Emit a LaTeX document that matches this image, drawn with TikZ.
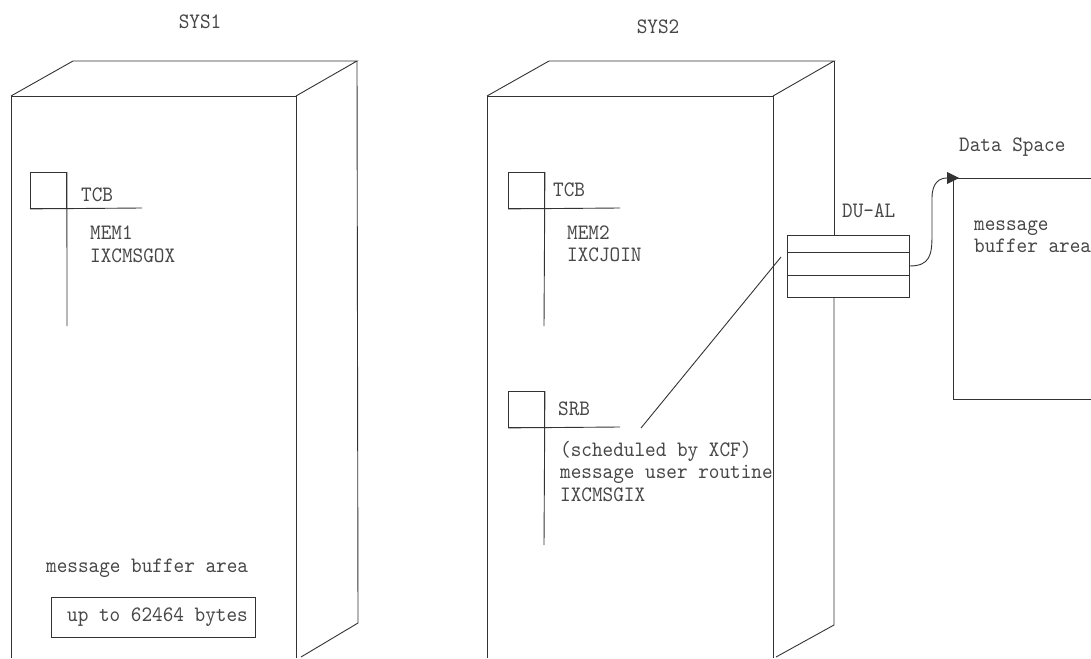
\documentclass[tikz,border=0pt]{standalone}
\usepackage{fontspec}
\setmainfont{lmmono10-regular.otf}[FakeStretch=0.92]
\usepackage{tikz}
\usetikzlibrary{positioning,arrows.meta}
\definecolor{inkline}{HTML}{333333}
\definecolor{inktext}{HTML}{474747}
\tikzset{
    wire/.style={draw=inkline,line width=0.9pt},
    lbl/.style={anchor=west,inner sep=0pt,text=inktext,align=left,font=\fontsize{22}{22.5}\selectfont},
    ttl/.style={inner sep=0pt,text=inktext,font=\fontsize{22}{22.5}\selectfont},
    cbox/.style={wire,minimum size=36,inner sep=0pt},
}

\begin{document}
\begin{tikzpicture}[x=1pt,y=-1pt]
    \useasboundingbox[fill=white] (0,0) rectangle (1091,658);

    % SYS1 cabinet
    \node[ttl] (sys1) at (200,22) {SYS1};
    \draw[wire] (11,658) -- (11,96) -- (296,96) -- (296,658);
    \draw[wire] (11,96) -- (73,61) -- (357,61) -- (296,96);
    \draw[wire] (357,61) -- (358,623) -- (301,657);

    \node[cbox,anchor=north west] (tcb1) at (30,172) {};
    \draw[wire] (tcb1.south west) -- (142,208);
    \draw[wire] (tcb1.north east) -- (67,326);
    \node[lbl] (tcbtxt1) at (81,195) {TCB};
    \node[lbl] (mem1) at (90,244.5) {MEM1\\IXCMSGOX};

    \node[lbl] (buf1) at (46,568) {message buffer area};
    \node[wire,minimum width=204,minimum height=40,inner sep=0pt,anchor=north west,text=inktext,
          font=\fontsize{22}{22.5}\selectfont] (bytes) at (51,597) {\hspace{8pt}up to 62464 bytes};

    % SYS2 cabinet
    \node[ttl] (sys2) at (658,27) {SYS2};
    \draw[wire] (487,658) -- (487,96) -- (773,96) -- (773,658);
    \draw[wire] (487,96) -- (549,61) -- (834,61) -- (773,96);

    \node[cbox,anchor=north west] (tcb2) at (508,172) {};
    \draw[wire] (tcb2.south west) -- (620,208);
    \draw[wire] (tcb2.north east) -- (544,326);
    \node[lbl] (tcbtxt2) at (553,190) {TCB};
    \node[lbl] (mem2) at (567,244) {MEM2\\IXCJOIN};

    \node[cbox,anchor=north west] (srb) at (508,391) {};
    \draw[wire] (srb.south west) -- (620,427);
    \draw[wire] (srb.north east) -- (544,545);
    \node[lbl] (srbtxt) at (558,409) {SRB};
    \node[lbl] (sched) at (560,471)
        {(scheduled by XCF)\\message user routine\\IXCMSGIX};

    % DU-AL
    \node[wire,minimum width=122,minimum height=62,inner sep=0pt] (dual) at (848,266) {};
    \draw[wire] ([yshift=-18pt]dual.north west) -- ([yshift=-18pt]dual.north east);
    \draw[wire] ([yshift=-41pt]dual.north west) -- ([yshift=-41pt]dual.north east);
    \node[lbl] (dualtxt) at (842,211) {DU-AL};
    \draw[wire] (834,61) -- (834,235);
    \draw[wire] (834,297) -- (834,625) -- (776,657);

    \coordinate (srbtip) at (641,428);
    \coordinate (dutip) at (781,257);
    \draw[wire] (srbtip) -- (dutip);

    % Data Space
    \node[lbl] (dstxt) at (959,147) {Data Space};
    \coordinate (ds) at (953,178);
    \draw[wire] (1091,178) -- (ds) -- (953,399) -- (1091,399);
    \node[lbl] (buf2) at (974,236.5) {message\\buffer area};

    \draw[wire,-{Triangle[length=12pt,width=12pt]}] (dual.east)
        .. controls (930,266) and (932,255) .. (932,235) -- (932,198)
        .. controls (932,182) and (940,178) .. ([xshift=6pt]ds);
\end{tikzpicture}
\end{document}
